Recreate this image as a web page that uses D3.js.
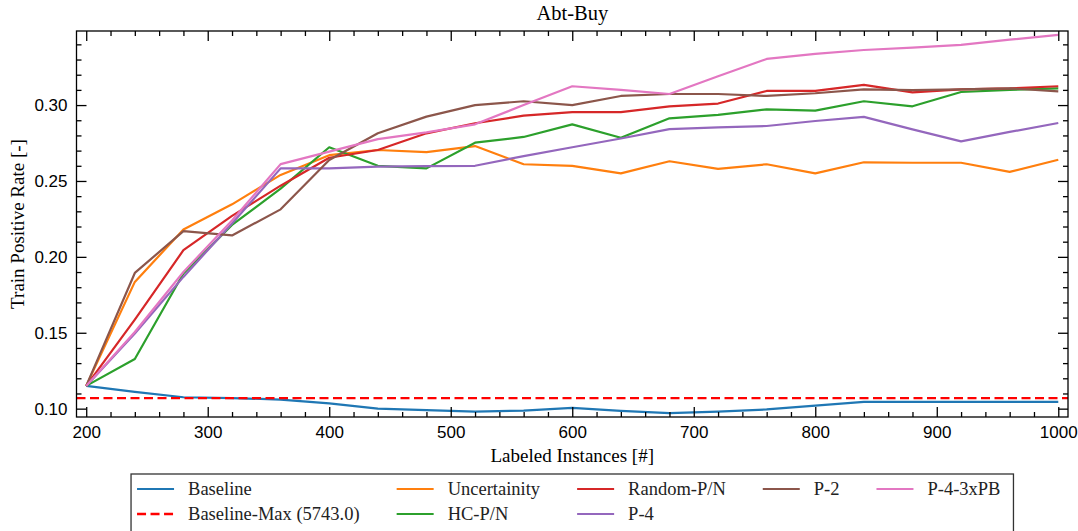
<!doctype html>
<html lang="en">
<head>
  <meta charset="utf-8">
  <title>Abt-Buy</title>
  <style>
    body {
      margin: 0;
      background: #fff;
    }
    svg {
      display: block;
      font-family: "Liberation Serif", serif;
    }
    .axis text {
      font-size: 17px;
      fill: #000;
    }
    .axis line {
      stroke: #000;
      stroke-width: 1.3;
    }
    .axis path {
      display: none;
    }
    .frame {
      fill: none;
      stroke: #000;
      stroke-width: 1.3;
    }
    .series {
      fill: none;
      stroke-width: 2.2;
      stroke-linejoin: round;
    }
    .legend text {
      font-size: 18.5px;
      fill: #222;
    }
  </style>
</head>
<body>
  <div class="chart"></div>
  <script src="https://cdn.jsdelivr.net/npm/d3@7/dist/d3.min.js"></script>
  <script>
    'use strict';

    // values
    const instances = [200, 240, 280, 320, 360, 400, 440, 480, 520, 560, 600,
                       640, 680, 720, 760, 800, 840, 880, 920, 960, 1000];
    const baseline = [0.115, 0.111, 0.1075, 0.107, 0.106, 0.1035, 0.100, 0.099, 0.098, 0.0987, 0.1005,
                      0.0985, 0.097, 0.098, 0.0995, 0.102, 0.1045, 0.1045, 0.1045, 0.1045, 0.1045];
    const baselineMax = 0.107;
    const uncertainty = [0.115, 0.1835, 0.218, 0.2346, 0.254, 0.267, 0.2704, 0.269, 0.273, 0.261, 0.260,
                         0.255, 0.263, 0.258, 0.261, 0.255, 0.2623, 0.262, 0.262, 0.256, 0.264];
    const hcPN = [0.115, 0.1327, 0.189, 0.221, 0.245, 0.2722, 0.260, 0.2583, 0.2752, 0.279, 0.2873,
                  0.2785, 0.2913, 0.2935, 0.2972, 0.2963, 0.3025, 0.2992, 0.3086, 0.310, 0.311];
    const randomPN = [0.115, 0.1587, 0.2044, 0.227, 0.2469, 0.2653, 0.2704, 0.2814, 0.288, 0.293, 0.2953,
                      0.2953, 0.2992, 0.301, 0.3093, 0.3093, 0.3133, 0.3084, 0.3104, 0.311, 0.3124];
    const p4 = [0.115, 0.1495, 0.1868, 0.222, 0.2583, 0.2583, 0.2594, 0.2598, 0.260, 0.2664, 0.2722,
                0.278, 0.2842, 0.2853, 0.2862, 0.2895, 0.2922, 0.284, 0.2761, 0.2823, 0.2882];
    const p2 = [0.115, 0.1894, 0.217, 0.2141, 0.2313, 0.2638, 0.2814, 0.2924, 0.300, 0.3025, 0.300,
                0.306, 0.3073, 0.3073, 0.306, 0.3078, 0.3104, 0.3098, 0.3104, 0.311, 0.309];
    const p43xPB = [0.115, 0.1505, 0.190, 0.224, 0.2611, 0.2693, 0.2776, 0.282, 0.2873, 0.300, 0.3124,
                    0.310, 0.3073, 0.319, 0.3304, 0.3337, 0.3363, 0.3379, 0.3397, 0.3431, 0.3462];

    const xMajor = [200, 300, 400, 500, 600, 700, 800, 900, 1000];
    const yMajor = [0.10, 0.15, 0.20, 0.25, 0.30];

    const series = [
      {name: 'Baseline', values: baseline, color: '#1f77b4'},
      {name: 'Baseline-Max (5743.0)', values: null, color: '#ff0000', dash: '9,4.5'},
      {name: 'Uncertainity', values: uncertainty, color: '#ff7f0e'},
      {name: 'HC-P/N', values: hcPN, color: '#2ca02c'},
      {name: 'Random-P/N', values: randomPN, color: '#d62728'},
      {name: 'P-4', values: p4, color: '#9467bd'},
      {name: 'P-2', values: p2, color: '#8c564b'},
      {name: 'P-4-3xPB', values: p43xPB, color: '#e377c2'}
    ];

    const fullWidth = 1078;
    const fullHeight = 531;
    const margin = {top: 31, right: 10, bottom: 114, left: 76.5};
    const width = fullWidth - margin.left - margin.right;
    const height = fullHeight - margin.top - margin.bottom;

    const xScale = d3.scaleLinear()
      .domain([192, 1008])
      .range([0, width]);

    const yScale = d3.scaleLinear()
      .domain([0.0945, 0.3488])
      .range([height, 0]);

    const xMinor = d3.range(200, 1001, 20).filter(v => v % 100 !== 0);
    const yMinor = d3.range(10, 35).filter(v => v % 5 !== 0).map(v => v / 100);

    const root = d3.select('.chart').append('svg')
      .attr('width', fullWidth)
      .attr('height', fullHeight);

    const svg = root.append('g')
      .attr('transform', `translate(${margin.left},${margin.top})`);

    svg.append('clipPath')
      .attr('id', 'plot-clip')
      .append('rect')
      .attr('width', width)
      .attr('height', height);

    // lines
    const line = d3.line()
      .x((d, i) => xScale(instances[i]))
      .y(d => yScale(d));

    const linesG = svg.append('g')
      .attr('clip-path', 'url(#plot-clip)');

    series.forEach(s => {
      if (s.values) {
        linesG.append('path')
          .attr('class', 'series')
          .attr('stroke', s.color)
          .attr('d', line(s.values));
      } else {
        linesG.append('line')
          .attr('class', 'series')
          .attr('stroke', s.color)
          .attr('stroke-width', 2.4)
          .attr('stroke-dasharray', s.dash)
          .attr('x1', xScale(xScale.domain()[0]))
          .attr('x2', xScale(xScale.domain()[1]))
          .attr('y1', yScale(baselineMax))
          .attr('y2', yScale(baselineMax));
      }
    });

    // axes: inward ticks on all four sides
    function drawXAxis(el) {
      el.append('g')
        .attr('class', 'axis axis--x')
        .attr('transform', `translate(0,${height})`)
        .call(d3.axisBottom(xScale).tickValues(xMajor).tickSizeInner(-10)
          .tickSizeOuter(0).tickPadding(9).tickFormat(d3.format('d')));
      el.append('g')
        .attr('class', 'axis')
        .attr('transform', `translate(0,${height})`)
        .call(d3.axisBottom(xScale).tickValues(xMinor).tickSizeInner(-5)
          .tickSizeOuter(0).tickFormat(''));
      el.append('g')
        .attr('class', 'axis')
        .call(d3.axisTop(xScale).tickValues(xMajor).tickSizeInner(-10)
          .tickSizeOuter(0).tickFormat(''));
      el.append('g')
        .attr('class', 'axis')
        .call(d3.axisTop(xScale).tickValues(xMinor).tickSizeInner(-5)
          .tickSizeOuter(0).tickFormat(''));
    }

    function drawYAxis(el) {
      el.append('g')
        .attr('class', 'axis axis--y')
        .call(d3.axisLeft(yScale).tickValues(yMajor).tickSizeInner(-10)
          .tickSizeOuter(0).tickPadding(9).tickFormat(d3.format('.2f')));
      el.append('g')
        .attr('class', 'axis')
        .call(d3.axisLeft(yScale).tickValues(yMinor).tickSizeInner(-5)
          .tickSizeOuter(0).tickFormat(''));
      el.append('g')
        .attr('class', 'axis')
        .attr('transform', `translate(${width},0)`)
        .call(d3.axisRight(yScale).tickValues(yMajor).tickSizeInner(-10)
          .tickSizeOuter(0).tickFormat(''));
      el.append('g')
        .attr('class', 'axis')
        .attr('transform', `translate(${width},0)`)
        .call(d3.axisRight(yScale).tickValues(yMinor).tickSizeInner(-5)
          .tickSizeOuter(0).tickFormat(''));
    }

    drawXAxis(svg);
    drawYAxis(svg);

    svg.append('rect')
      .attr('class', 'frame')
      .attr('width', width)
      .attr('height', height);

    // titles
    svg.append('text')
      .attr('x', width / 2)
      .attr('y', -11)
      .attr('text-anchor', 'middle')
      .style('font-size', '20.5px')
      .text('Abt-Buy');

    svg.append('text')
      .attr('x', width / 2)
      .attr('y', height + 45)
      .attr('text-anchor', 'middle')
      .style('font-size', '19px')
      .text('Labeled Instances [#]');

    root.append('text')
      .attr('transform', `translate(24,${margin.top + height / 2}) rotate(-90)`)
      .attr('text-anchor', 'middle')
      .style('font-size', '19px')
      .text('Train Positive Rate [-]');

    // legend, 5 columns filled column-first
    const ncol = 5;
    const nrows = Math.ceil(series.length / ncol);
    const fullCols = series.length - (nrows - 1) * ncol;
    const columns = [];
    let idx = 0;
    for (let c = 0; c < ncol; c++) {
      const n = c < fullCols ? nrows : nrows - 1;
      columns.push(series.slice(idx, idx + n));
      idx += n;
    }

    const handleLen = 37;
    const handleGap = 14;
    const colSpacing = 37;
    const padLeft = 6;
    const padRight = 13;
    const rowTop = 15;
    const rowStep = 25;
    const legendTop = 474;

    const legend = root.append('g').attr('class', 'legend');
    const box = legend.append('rect')
      .attr('fill', '#fff')
      .attr('stroke', '#333')
      .attr('stroke-width', 1.3);

    let cx = padLeft;
    columns.forEach(col => {
      const g = legend.append('g');
      let maxW = 0;
      col.forEach((s, r) => {
        const y = rowTop + r * rowStep;
        g.append('line')
          .attr('x1', 0).attr('x2', handleLen)
          .attr('y1', y).attr('y2', y)
          .attr('stroke', s.color)
          .attr('stroke-width', s.values ? 2.2 : 2.4)
          .attr('stroke-dasharray', s.dash || null);
        const t = g.append('text')
          .attr('x', handleLen + handleGap)
          .attr('y', y)
          .attr('dy', '0.33em')
          .text(s.name);
        maxW = Math.max(maxW, t.node().getComputedTextLength());
      });
      g.attr('transform', `translate(${cx},0)`);
      cx += handleLen + handleGap + maxW + colSpacing;
    });

    const legendWidth = cx - colSpacing + padRight;
    const legendLeft = margin.left + width / 2 - legendWidth / 2;
    legend.attr('transform', `translate(${legendLeft},${legendTop})`);
    box.attr('width', legendWidth).attr('height', 64);
  </script>
</body>
</html>
